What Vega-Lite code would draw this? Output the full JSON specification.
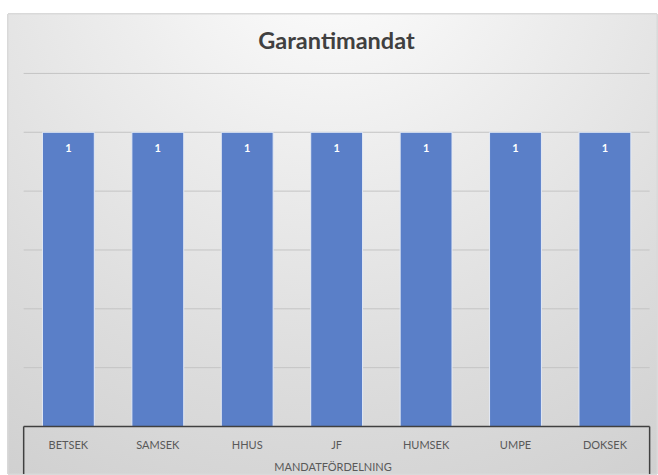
{
  "$schema": "https://vega.github.io/schema/vega-lite/v6.json",
  "width": 658,
  "height": 475,
  "autosize": {"type": "fit", "contains": "padding"},
  "padding": {"left": 7, "top": 13, "right": 0, "bottom": 0},
  "background": "#ffffff",
  "config": {"view": {"stroke": null}, "font": "Lato"},
  "title": {
    "text": "Garantimandat",
    "orient": "top",
    "anchor": "middle",
    "offset": -40,
    "dx": 4,
    "font": "Lato",
    "fontSize": 23.5,
    "fontWeight": "bold",
    "color": "#404040"
  },
  "datasets": {
    "bars": [
      {"sektion": "BETSEK", "mandat": 1},
      {"sektion": "SAMSEK", "mandat": 1},
      {"sektion": "HHUS", "mandat": 1},
      {"sektion": "JF", "mandat": 1},
      {"sektion": "HUMSEK", "mandat": 1},
      {"sektion": "UMPE", "mandat": 1},
      {"sektion": "DOKSEK", "mandat": 1}
    ],
    "grid": [
      {"v": 0.2}, {"v": 0.4}, {"v": 0.6}, {"v": 0.8}, {"v": 1.0}, {"v": 1.2}
    ],
    "axisline": [{"v": 0}]
  },
  "layer": [
    {
      "data": {"name": "bars"},
      "mark": {
        "type": "rect",
        "stroke": "#d9d9d9",
        "strokeWidth": 1,
        "fill": {
          "gradient": "radial",
          "x1": 0.5, "y1": 0.02, "r1": 0,
          "x2": 0.5, "y2": 0.02, "r2": 1.0,
          "stops": [
            {"offset": 0, "color": "#ffffff"},
            {"offset": 0.35, "color": "#ededed"},
            {"offset": 0.7, "color": "#dcdcdc"},
            {"offset": 1, "color": "#cfcfcf"}
          ]
        }
      },
      "encoding": {
        "x": {"value": 0},
        "x2": {"value": "width"},
        "y": {"value": 0},
        "y2": {"value": "height"}
      }
    },
    {
      "data": {"name": "grid"},
      "mark": {"type": "rule", "color": "#c4c4c4", "strokeWidth": 1},
      "encoding": {
        "x": {"value": {"expr": "scale('x', 'BETSEK')"}},
        "x2": {"value": {"expr": "scale('x', 'DOKSEK') + bandwidth('x')"}},
        "y": {"field": "v", "type": "quantitative", "axis": {"grid": false, "labels": false, "ticks": false, "domain": false, "title": null}}
      }
    },
    {
      "data": {"name": "bars"},
      "mark": {"type": "bar", "color": "#5a7fc8", "stroke": "#e4eaf5", "strokeWidth": 1, "width": {"band": 0.58}},
      "encoding": {
        "x": {
          "field": "sektion",
          "type": "nominal",
          "sort": null,
          "scale": {
            "domain": ["BETSEK", "SAMSEK", "HHUS", "JF", "HUMSEK", "UMPE", "DOKSEK"],
            "paddingInner": 0,
            "paddingOuter": 0.1288,
            "align": 0.68
          },
          "axis": {
            "orient": "bottom",
            "offset": -47.7,
            "zindex": 1,
            "domain": false,
            "ticks": false,
            "grid": false,
            "labelAngle": 0,
            "labelPadding": 13,
            "labelFont": "Lato",
            "labelFontSize": 11,
            "labelColor": "#595959",
            "title": "MANDATFÖRDELNING",
            "titleFont": "Lato",
            "titleFontSize": 11,
            "titleFontWeight": "normal",
            "titleColor": "#595959",
            "titlePadding": 11
          }
        },
        "y": {
          "field": "mandat",
          "type": "quantitative",
          "scale": {"domain": [-0.1614, 1.402], "nice": false, "zero": false},
          "axis": {"grid": false, "labels": false, "ticks": false, "domain": false, "title": null}
        }
      }
    },
    {
      "data": {"name": "bars"},
      "mark": {"type": "text", "color": "#ffffff", "fontWeight": "bold", "fontSize": 11, "font": "Lato", "baseline": "alphabetic", "dy": 20},
      "encoding": {
        "x": {"field": "sektion", "type": "nominal"},
        "y": {"field": "mandat", "type": "quantitative", "axis": {"grid": false, "labels": false, "ticks": false, "domain": false, "title": null}},
        "text": {"field": "mandat", "type": "quantitative"}
      }
    },
    {
      "data": {"name": "axisline"},
      "mark": {"type": "rule", "color": "#404040", "strokeWidth": 1.5},
      "encoding": {
        "x": {"value": {"expr": "scale('x', 'BETSEK')"}},
        "x2": {"value": {"expr": "scale('x', 'DOKSEK') + bandwidth('x')"}},
        "y": {"field": "v", "type": "quantitative", "axis": {"grid": false, "labels": false, "ticks": false, "domain": false, "title": null}}
      }
    },
    {
      "data": {"name": "axisline"},
      "mark": {"type": "rule", "color": "#404040", "strokeWidth": 1.5},
      "encoding": {
        "x": {"value": {"expr": "scale('x', 'BETSEK')"}},
        "y": {"field": "v", "type": "quantitative", "axis": {"grid": false, "labels": false, "ticks": false, "domain": false, "title": null}},
        "y2": {"value": "height"}
      }
    },
    {
      "data": {"name": "axisline"},
      "mark": {"type": "rule", "color": "#404040", "strokeWidth": 1.5},
      "encoding": {
        "x": {"value": {"expr": "scale('x', 'DOKSEK') + bandwidth('x')"}},
        "y": {"field": "v", "type": "quantitative", "axis": {"grid": false, "labels": false, "ticks": false, "domain": false, "title": null}},
        "y2": {"value": "height"}
      }
    }
  ]
}
